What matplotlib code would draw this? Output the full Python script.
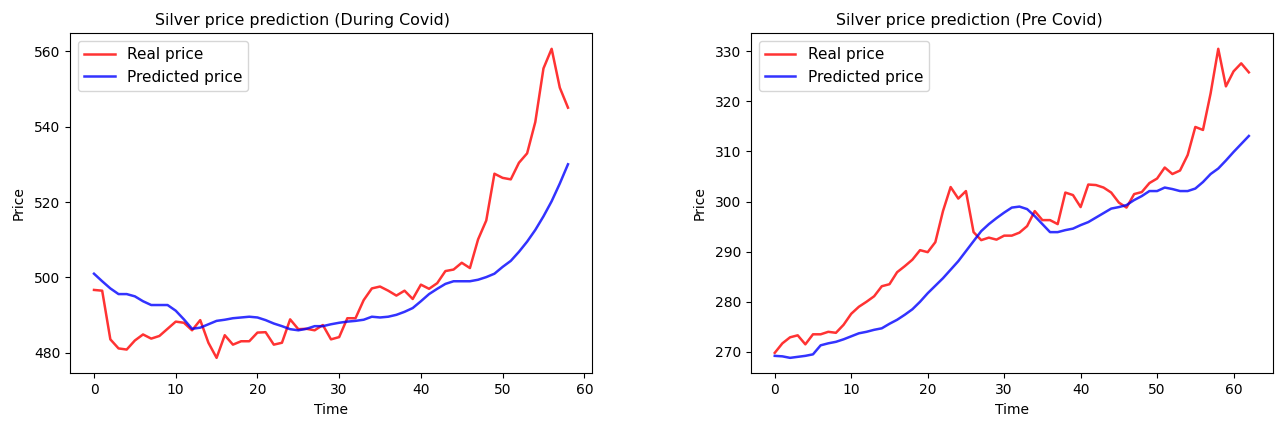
import matplotlib
matplotlib.use("Agg")
import matplotlib.pyplot as plt

# === Data ===
during_real = [496.7, 496.5, 483.6, 481.2, 480.9, 483.3, 484.9, 483.8, 484.5, 486.4,
               488.3, 488.0, 486.0, 488.7, 482.7, 478.7, 484.7, 482.2, 483.1, 483.1,
               485.4, 485.5, 482.2, 482.7, 488.9, 486.3, 486.4, 486.0, 487.4, 483.6,
               484.2, 489.2, 489.2, 494.0, 497.1, 497.6, 496.5, 495.2, 496.5, 494.3,
               498.1, 497.0, 498.5, 501.7, 502.1, 503.9, 502.5, 510.1, 515.1, 527.5,
               526.4, 526.0, 530.4, 532.9, 541.2, 555.4, 560.6, 550.3, 545.0]
during_pred = [501.0, 499.0, 497.1, 495.6, 495.6, 495.0, 493.7, 492.7, 492.7, 492.7,
               491.2, 488.9, 486.4, 486.7, 487.6, 488.5, 488.8, 489.2, 489.4, 489.6,
               489.4, 488.7, 487.8, 487.1, 486.3, 486.0, 486.4, 487.1, 487.1, 487.6,
               488.0, 488.3, 488.5, 488.8, 489.6, 489.4, 489.6, 490.1, 490.9, 491.9,
               493.7, 495.6, 497.0, 498.3, 499.0, 499.0, 499.0, 499.4, 500.1, 501.0,
               502.8, 504.4, 506.8, 509.5, 512.6, 516.2, 520.2, 524.9, 530.0]

pre_real = [269.8, 271.7, 272.9, 273.3, 271.5, 273.5, 273.5, 274.0, 273.8, 275.4,
            277.6, 279.0, 280.0, 281.1, 283.1, 283.5, 285.9, 287.1, 288.4, 290.3,
            289.9, 291.9, 298.1, 302.9, 300.6, 302.1, 293.9, 292.3, 292.8, 292.4,
            293.2, 293.2, 293.8, 295.1, 298.1, 296.3, 296.3, 295.5, 301.8, 301.3,
            298.9, 303.4, 303.3, 302.8, 301.8, 299.8, 298.8, 301.5, 301.9, 303.7,
            304.6, 306.8, 305.5, 306.2, 309.3, 314.9, 314.3, 321.6, 330.5, 323.0,
            326.0, 327.6, 325.8]
pre_pred = [269.2, 269.1, 268.8, 269.0, 269.2, 269.5, 271.3, 271.7, 272.0, 272.5,
            273.1, 273.7, 274.0, 274.4, 274.7, 275.6, 276.4, 277.4, 278.5, 280.0,
            281.7, 283.2, 284.7, 286.4, 288.1, 290.1, 292.1, 294.1, 295.5, 296.7,
            297.8, 298.8, 299.0, 298.5, 297.1, 295.5, 293.9, 293.9, 294.3, 294.6,
            295.3, 295.9, 296.8, 297.7, 298.6, 298.9, 299.3, 300.3, 301.1, 302.1,
            302.1, 302.8, 302.5, 302.1, 302.1, 302.6, 303.9, 305.5, 306.6, 308.2,
            309.9, 311.5, 313.1]

panels = [
    ("Silver price prediction (During Covid)", during_real, during_pred, [480, 500, 520, 540, 560]),
    ("Silver price prediction (Pre Covid)", pre_real, pre_pred, [270, 280, 290, 300, 310, 320, 330]),
]

# === Plot ===
fig = plt.figure(figsize=(12.76, 4.26), dpi=100)
boxes = [[0.0551, 0.1237, 0.4086, 0.798], [0.5886, 0.1237, 0.4087, 0.798]]
title_x = [0.445, 0.419]  # titles sit a bit left of centre in the reference

for box, tx, (title, real, pred, yticks) in zip(boxes, title_x, panels):
    ax = fig.add_axes(box)
    ax.plot(range(len(real)), real, color='red', alpha=0.8, lw=1.8, label='Real price')
    ax.plot(range(len(pred)), pred, color='blue', alpha=0.8, lw=1.8, label='Predicted price')
    ax.set_title(title, fontsize=11.4, x=tx)
    ax.set_xlabel('Time', fontsize=10)
    ax.set_ylabel('Price', fontsize=10, labelpad=6)
    ax.set_xticks([0, 10, 20, 30, 40, 50, 60])
    ax.set_yticks(yticks)
    ax.tick_params(labelsize=10)
    ax.legend(loc='upper left', fontsize=11)

fig.savefig('out.png', dpi=100)
